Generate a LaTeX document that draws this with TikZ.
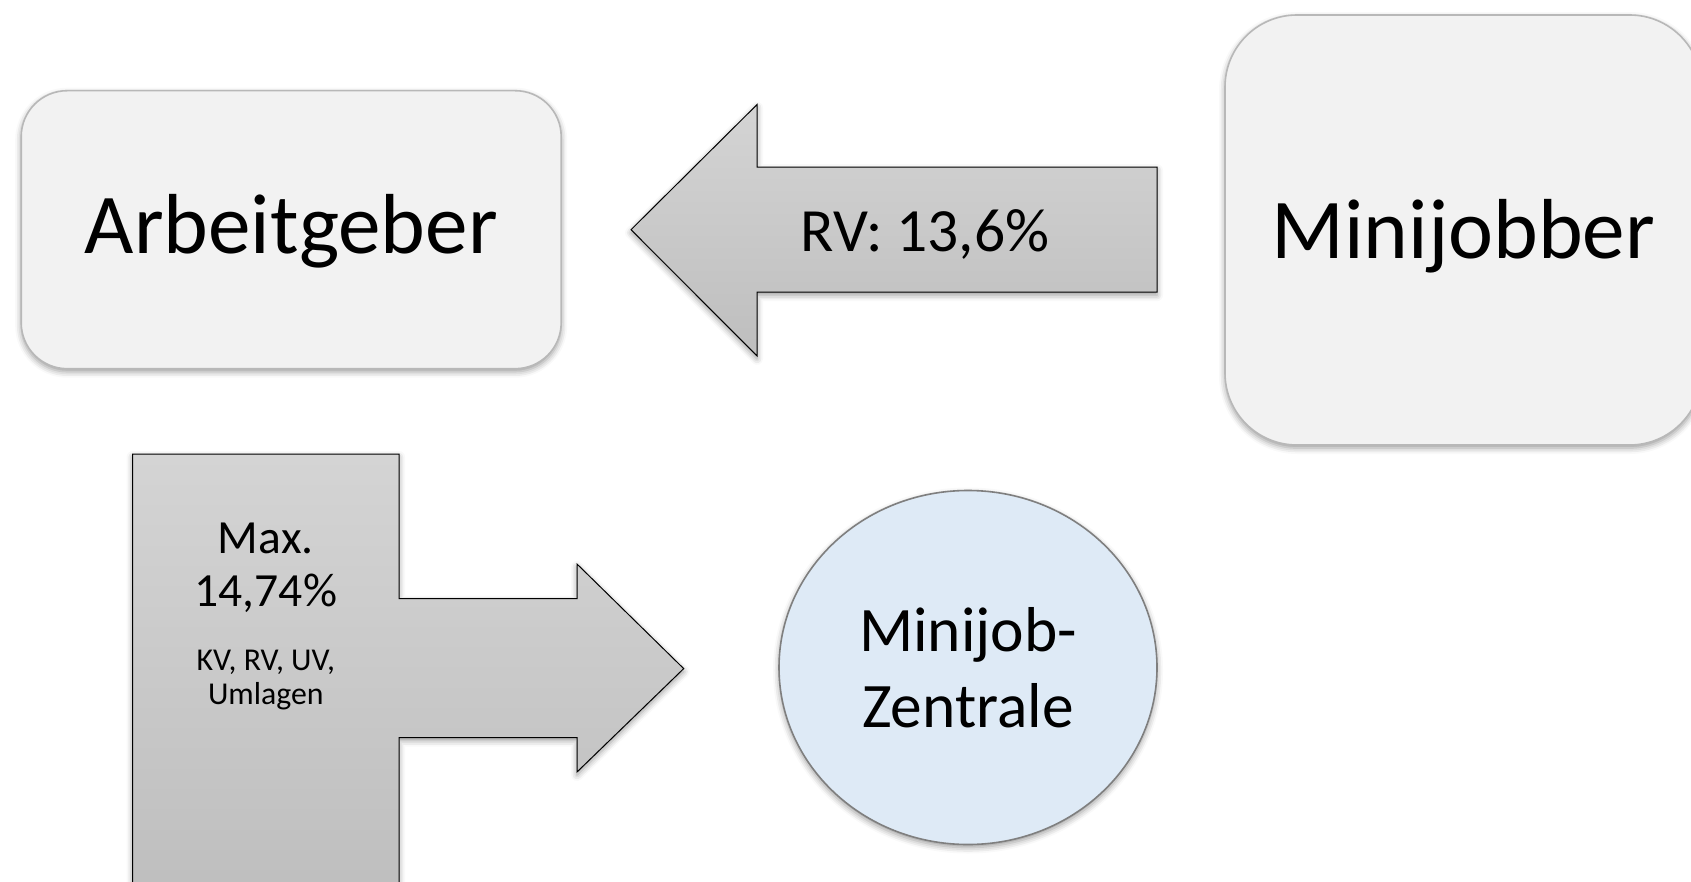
\documentclass[tikz,border=0pt]{standalone}
\usepackage{fontspec}
\setmainfont{Carlito}
\usepackage{tikz}
\usetikzlibrary{shapes.geometric}
\usetikzlibrary{shadows.blur}
\definecolor{boxfill}{HTML}{F2F2F2}
\definecolor{boxline}{HTML}{B8B8B8}
\definecolor{arrowtop}{HTML}{D4D4D4}
\definecolor{arrowbottom}{HTML}{BEBEBE}
\definecolor{zentralefill}{HTML}{DEEAF6}
\definecolor{zentraleline}{HTML}{7F7F7F}

\begin{document}
\begin{tikzpicture}[x=0.5pt,y=-0.5pt,
	softshadow/.style={blur shadow={shadow xshift=0pt,shadow yshift=-1.5pt,shadow blur radius=3pt,shadow opacity=40}},
	partybox/.style={rectangle,fill=boxfill,draw=boxline,line width=0.8pt,softshadow,text height=30pt,font=\fontsize{42.6}{51}\selectfont},
	blockarrow/.style={top color=arrowtop,bottom color=arrowbottom,draw=black,line width=0.5pt,softshadow},
	zentrale/.style={ellipse,fill=zentralefill,draw=zentraleline,line width=0.8pt,softshadow,align=center,font=\fontsize{31.7}{37.8}\selectfont}]
		\useasboundingbox (0,0) rectangle (1691,882);
		\clip (0,0) rectangle (1691,882);
		\node[partybox,rounded corners=23pt,minimum width=270pt,minimum height=139pt,text depth=6.4pt] (arbeitgeber) at (291.2,229.7) {Arbeitgeber};
		\node[partybox,rounded corners=36pt,minimum width=238.3pt,minimum height=215pt,text depth=1.7pt] (minijobber) at (1463.3,230) {Minijobber};
		\draw[blockarrow] (631,229.7) -- (757,104.6) -- (757,167.2) -- (1157,167.2) -- (1157,292.2) -- (757,292.2) -- (757,355.9) -- cycle;
		\node[anchor=base,font=\fontsize{30.75}{37}\selectfont] (rv) at (925,251.7) {RV: 13,6\%};
		\draw[blockarrow] (132.6,454) -- (399,454) -- (399,598.5) -- (577,598.5) -- (577,564) -- (683.7,668.6) -- (577,772) -- (577,737.6) -- (399,737.6) -- (399,900) -- (132.6,900) -- cycle;
		\node[anchor=base,font=\fontsize{23.8}{29}\selectfont] (max) at (265.8,553.3) {Max.};
		\node[anchor=base,font=\fontsize{23.8}{29}\selectfont] (satz) at (265.8,606) {14,74\%};
		\node[anchor=base,font=\fontsize{15.9}{19}\selectfont] (zweige) at (265.8,670) {KV, RV, UV,};
		\node[anchor=base,font=\fontsize{15.9}{19}\selectfont] (umlagen) at (265.8,704) {Umlagen};
		\node[zentrale,minimum width=189pt,minimum height=177pt] (zentrale) at (968,667.5) {Minijob-\\Zentrale};
	\end{tikzpicture}
\end{document}
